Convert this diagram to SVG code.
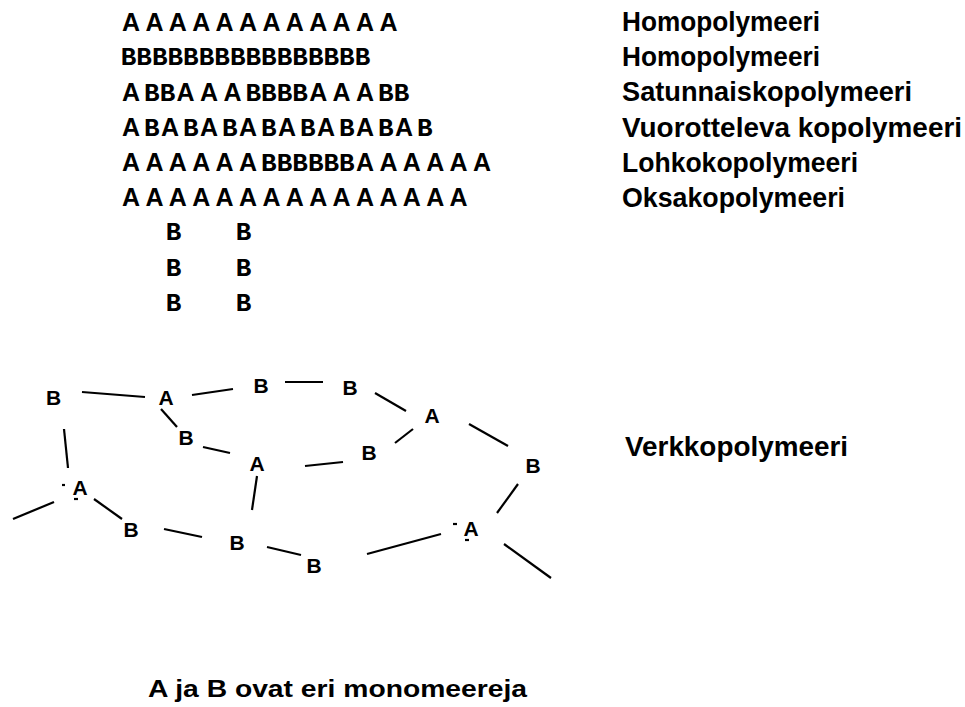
<svg xmlns="http://www.w3.org/2000/svg" width="965" height="707" viewBox="0 0 965 707">
<style>
.s{font-family:"Liberation Sans",Arial,sans-serif;font-weight:bold;fill:#000}
.ab{font-size:25px}
.m{font-family:"Liberation Mono","Courier New",monospace;font-size:26px;font-weight:bold}
.lbl{font-size:28px}
.nd{font-size:21px;text-anchor:middle}
.ft{font-size:24px}
.cn line{stroke:#000;stroke-width:2.2;fill:none}
</style>
<rect x="0" y="0" width="965" height="707" fill="#fff"/>
<g id="row1"><text class="s ab" x="122 145.4 168.8 192.2 215.6 239 262.4 285.8 309.2 332.6 356 379.4" y="31">AAAAAAAAAAAA</text></g>
<g id="row2"><text class="s ab" y="65"><tspan class="m" x="120.7 136.3 151.9 167.5 183.1 198.7 214.3 229.9 245.5 261.1 276.7 292.3 307.9 323.5 339.1 354.7">BBBBBBBBBBBBBBBB</tspan></text></g>
<g id="row3"><text class="s ab" y="101"><tspan x="122">A</tspan><tspan class="m" x="144.1 159.7">BB</tspan><tspan x="176.6 200 223.4">AAA</tspan><tspan class="m" x="245.5 261.1 276.7 292.3">BBBB</tspan><tspan x="309.2 332.6 356">AAA</tspan><tspan class="m" x="378.1 393.7">BB</tspan></text></g>
<g id="row4"><text class="s ab" y="136"><tspan x="122">A</tspan><tspan class="m" x="144.1">B</tspan><tspan x="161">A</tspan><tspan class="m" x="183.1">B</tspan><tspan x="200">A</tspan><tspan class="m" x="222.1">B</tspan><tspan x="239">A</tspan><tspan class="m" x="261.1">B</tspan><tspan x="278">A</tspan><tspan class="m" x="300.1">B</tspan><tspan x="317">A</tspan><tspan class="m" x="339.1">B</tspan><tspan x="356">A</tspan><tspan class="m" x="378.1">B</tspan><tspan x="395">A</tspan><tspan class="m" x="417.1">B</tspan></text></g>
<g id="row5"><text class="s ab" y="171"><tspan x="122 145.4 168.8 192.2 215.6 239">AAAAAA</tspan><tspan class="m" x="261.1 276.7 292.3 307.9 323.5 339.1">BBBBBB</tspan><tspan x="356 379.4 402.8 426.2 449.6 473">AAAAAA</tspan></text></g>
<g id="row6"><text class="s ab" x="122 145.4 168.8 192.2 215.6 239 262.4 285.8 309.2 332.6 356 379.4 402.8 426.2 449.6" y="206">AAAAAAAAAAAAAAA</text></g>
<g id="branches"><text class="s ab" y="240"><tspan class="m" x="165.7 235.7">BB</tspan></text><text class="s ab" y="276"><tspan class="m" x="165.7 235.7">BB</tspan></text><text class="s ab" y="311"><tspan class="m" x="165.7 235.7">BB</tspan></text></g>
<g id="labels">
<text class="s lbl" x="622" y="31" textLength="198" lengthAdjust="spacingAndGlyphs">Homopolymeeri</text>
<text class="s lbl" x="622" y="66" textLength="198" lengthAdjust="spacingAndGlyphs">Homopolymeeri</text>
<text class="s lbl" x="622" y="101" textLength="290" lengthAdjust="spacingAndGlyphs">Satunnaiskopolymeeri</text>
<text class="s lbl" x="622" y="137" textLength="340" lengthAdjust="spacingAndGlyphs">Vuorotteleva kopolymeeri</text>
<text class="s lbl" x="622" y="172" textLength="236" lengthAdjust="spacingAndGlyphs">Lohkokopolymeeri</text>
<text class="s lbl" x="622" y="207" textLength="223" lengthAdjust="spacingAndGlyphs">Oksakopolymeeri</text>
<text class="s lbl" x="625" y="456" textLength="223" lengthAdjust="spacingAndGlyphs">Verkkopolymeeri</text>
</g>
<g id="connectors" class="cn">
<line x1="82" y1="392" x2="145" y2="397"/>
<line x1="192" y1="395" x2="233" y2="389"/>
<line x1="285" y1="382" x2="323" y2="382"/>
<line x1="375" y1="393" x2="406" y2="411"/>
<line x1="469" y1="424" x2="508" y2="446"/>
<line x1="518" y1="484" x2="497" y2="513"/>
<line x1="504" y1="544" x2="551" y2="578"/>
<line x1="367" y1="554" x2="441" y2="534"/>
<line x1="267" y1="547" x2="301" y2="555"/>
<line x1="164" y1="529" x2="202" y2="537"/>
<line x1="94" y1="499" x2="122" y2="519"/>
<line x1="13" y1="519" x2="54" y2="502"/>
<line x1="64" y1="429" x2="68" y2="468"/>
<line x1="161" y1="409" x2="177" y2="427"/>
<line x1="203" y1="447" x2="230" y2="453"/>
<line x1="257" y1="476" x2="252" y2="510"/>
<line x1="305" y1="466" x2="343" y2="462"/>
<line x1="395" y1="443" x2="413" y2="429"/>
<line x1="62" y1="485" x2="65" y2="485"/>
<line x1="74" y1="499" x2="78" y2="499"/>
<line x1="453" y1="524" x2="457" y2="524"/>
<line x1="465" y1="540" x2="469" y2="540"/>
</g>
<g id="n-b1"><text class="s nd" x="53.5" y="405">B</text></g>
<g id="n-a1"><text class="s nd" x="166" y="405">A</text></g>
<g id="n-b2"><text class="s nd" x="261" y="393">B</text></g>
<g id="n-b3"><text class="s nd" x="350" y="395">B</text></g>
<g id="n-a2"><text class="s nd" x="432" y="423">A</text></g>
<g id="n-b4"><text class="s nd" x="533" y="473">B</text></g>
<g id="n-a3"><text class="s nd" x="471" y="536">A</text></g>
<g id="n-b5"><text class="s nd" x="314" y="573">B</text></g>
<g id="n-b6"><text class="s nd" x="237" y="550">B</text></g>
<g id="n-b7"><text class="s nd" x="131" y="537">B</text></g>
<g id="n-a4"><text class="s nd" x="80" y="495">A</text></g>
<g id="n-b8"><text class="s nd" x="186" y="445">B</text></g>
<g id="n-a5"><text class="s nd" x="257" y="471">A</text></g>
<g id="n-b9"><text class="s nd" x="369" y="460">B</text></g>
<g id="footer"><text class="s ft" x="148" y="697" textLength="379" lengthAdjust="spacingAndGlyphs">A ja B ovat eri monomeereja</text></g>
</svg>
